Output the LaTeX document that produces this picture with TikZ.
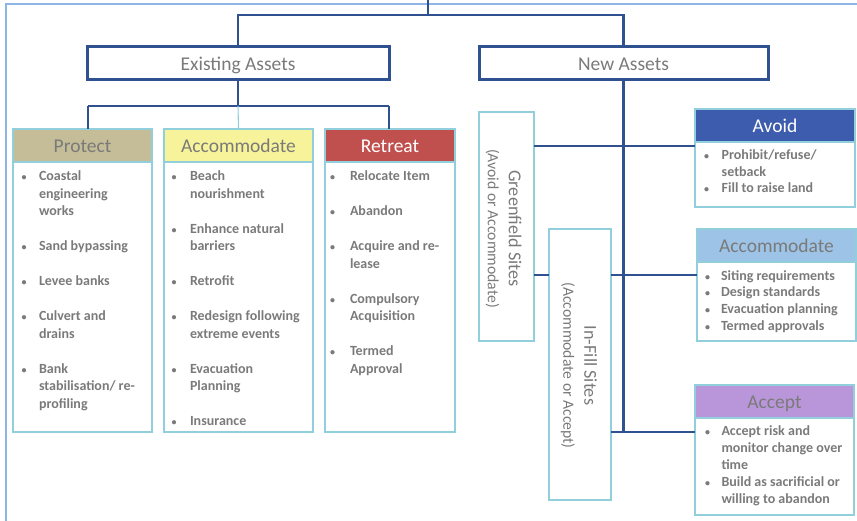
\documentclass[tikz,border=0pt]{standalone}
\usepackage{fontspec}
\setmainfont{Carlito}
\usetikzlibrary{calc}
\definecolor{dkblue}{HTML}{2F5190}
\definecolor{framecol}{HTML}{8DB4E2}
\definecolor{aqua}{HTML}{92CFDD}
\definecolor{txtgray}{HTML}{7A7A7A}
\definecolor{tanfill}{HTML}{C4BD97}
\definecolor{yelfill}{HTML}{F7F39A}
\definecolor{retred}{HTML}{C0504D}
\definecolor{avblue}{HTML}{3D5CAD}
\definecolor{ltblue}{HTML}{9DC3E6}
\definecolor{purpfill}{HTML}{B996DA}
\newlength\bw
\newcommand\bi{\makebox[\bw][l]{\fontsize{10}{10}\selectfont\textbullet}}
\newcommand\ci{\hspace*{\bw}}
\begin{document}
\begin{tikzpicture}[x=1pt,y=-1pt,
 every node/.style={inner sep=0pt, outer sep=0pt},
 trunk/.style={draw=dkblue, line width=2.6pt},
 thinline/.style={draw=aqua, line width=1.1pt},
 assetbox/.style={draw=dkblue, line width=3pt, fill=white, minimum width=#1, minimum height=33pt, anchor=north west, font=\fontsize{19.5}{22}\selectfont, text=txtgray, text height=15pt, text depth=1pt},
 head/.style={draw=aqua, line width=1.1pt, anchor=north west, minimum width=#1, minimum height=33pt, font=\fontsize{19.5}{22}\selectfont, text=txtgray, text height=15pt, text depth=1pt},
 bodybox/.style={draw=aqua, line width=1.1pt, anchor=north west},
 listtext/.style={anchor=north west, align=left, text=txtgray},
 lfont/.style={font=\fontsize{14}{17.5}\selectfont\bfseries\setlength\bw{#1}},
 rfont/.style={font=\fontsize{14}{16.7}\selectfont\bfseries\setlength\bw{#1}},
 vtext/.style={rotate=-90, align=center, text=txtgray, font=\fontsize{18.2}{21}\selectfont},
]
\useasboundingbox (0,0) rectangle (857,521);
\draw[framecol, line width=2pt] (6,521) -- (6,4) -- (857,4);

% top level
\node[assetbox=302pt] (ex) at (87,47) {Existing Assets};
\node[assetbox=289pt] (new) at (479,47) {New Assets};

% existing assets columns
\node[head=139pt, fill=tanfill] (protH) at (13,129) {Protect};
\node[bodybox, minimum width=139pt, minimum height=270pt] (protB) at (13,162) {};
\node[head=149pt, fill=yelfill] (accH) at (164,129) {Accommodate};
\node[bodybox, minimum width=149pt, minimum height=270pt] (accB) at (164,162) {};
\node[head=130pt, fill=retred, text=white] (retH) at (325,129) {Retreat};
\node[bodybox, minimum width=130pt, minimum height=270pt] (retB) at (325,162) {};

\node[listtext, lfont=17.5pt] (protL) at (21.5,168.5) {\strut\bi Coastal\\ \ci engineering\\ \ci works\\[17.5pt] \bi Sand bypassing\\[17.5pt] \bi Levee banks\\[17.5pt] \bi Culvert and\\ \ci drains\\[17.5pt] \bi Bank\\ \ci stabilisation/ re-\\ \ci profiling};
\node[listtext, lfont=18.5pt] (accL) at (171.5,168.5) {\strut\bi Beach\\ \ci nourishment\\[17.5pt] \bi Enhance natural\\ \ci barriers\\[17.5pt] \bi Retrofit\\[17.5pt] \bi Redesign following\\ \ci extreme events\\[17.5pt] \bi Evacuation\\ \ci Planning\\[17.5pt] \bi Insurance};
\node[listtext, lfont=20pt] (retL) at (330,168.5) {\strut\bi Relocate Item\\[17.5pt] \bi Abandon\\[17.5pt] \bi Acquire and re-\\ \ci lease\\[17.5pt] \bi Compulsory\\ \ci Acquisition\\[17.5pt] \bi Termed\\ \ci Approval};

% new assets
\node[bodybox, minimum width=55pt, minimum height=229pt] (green) at (479,112) {};
\node[vtext] (greenT) at ($(green.center)+(-3,2)$) {Greenfield Sites\\{\fontsize{15.7}{18}\selectfont (Avoid or Accommodate)}};
\node[bodybox, minimum width=62pt, minimum height=271pt] (infill) at (549,229) {};
\node[vtext] (infillT) at ($(infill.center)+(-1,1)$) {In-Fill Sites\\{\fontsize{15.7}{18}\selectfont (Accommodate or Accept)}};

\node[head=160pt, fill=avblue, text=white] (avH) at (695,109) {Avoid};
\node[bodybox, minimum width=160pt, minimum height=65pt] (avB) at (695,142) {};
\node[listtext, font=\fontsize{14}{16.2}\selectfont\bfseries\setlength\bw{17.7pt}] (avL) at (704,148.5) {\strut\bi Prohibit/refuse/\\ \ci setback\\ \bi Fill to raise land};

\node[head=159pt, fill=ltblue] (acH) at (697,229) {Accommodate};
\node[bodybox, minimum width=159pt, minimum height=79pt] (acB) at (697,262) {};
\node[listtext, rfont=16pt] (acL) at (705,268.5) {\strut\bi Siting requirements\\ \bi Design standards\\ \bi Evacuation planning\\ \bi Termed approvals};

\node[head=159pt, fill=purpfill] (apH) at (695,385) {Accept};
\node[bodybox, minimum width=159pt, minimum height=97pt] (apB) at (695,418) {};
\node[listtext, font=\fontsize{14}{17}\selectfont\bfseries\setlength\bw{16.5pt}] (apL) at (705,423.5) {\strut\bi Accept risk and\\ \ci monitor change over\\ \ci time\\ \bi Build as sacrificial or\\ \ci willing to abandon};

% connectors
\coordinate (top) at (428,0);
\coordinate (tj) at (428,15);
\draw[trunk] (top) -- (tj);
\draw[trunk] (tj) -| (ex.north);
\draw[trunk] (tj) -| (new.north);

\coordinate (ej) at (238,106);
\coordinate (pj) at (88,106);
\coordinate (rj) at (389,106);
\draw[trunk] (ex.south) -- (ej);
\draw[trunk] (pj) -- (rj);
\draw[trunk] (pj) -- (pj |- protH.north);
\draw[trunk] (rj) -- (rj |- retH.north);
\draw[thinline] (ej) -- (accH.north);

\coordinate (t1) at (623.5,146);
\coordinate (t2) at (623.5,275);
\coordinate (t3) at (623.5,432);
\draw[trunk] (new.south) -- (t3);
\draw[trunk] (green.east |- t1) -- (avB.west |- t1);
\draw[trunk] (green.east |- t2) -- (infill.west |- t2);
\draw[trunk] (infill.east |- t2) -- (acB.west |- t2);
\draw[trunk] (infill.east |- t3) -- (apB.west |- t3);
\end{tikzpicture}
\end{document}
